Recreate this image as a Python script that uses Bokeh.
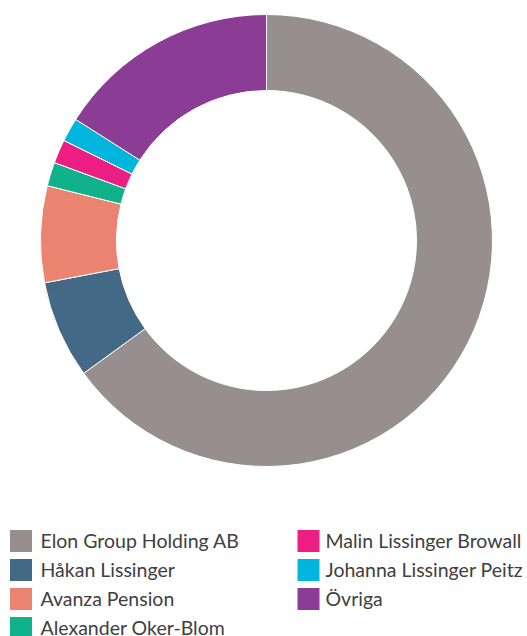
import numpy as np
from bokeh.plotting import figure
from bokeh.models import Range1d, ColumnDataSource
from bokeh.core.properties import value
from bokeh.embed import file_html
from bokeh.resources import INLINE

# ---- data ----
owners = ["Elon Group Holding AB", "Håkan Lissinger", "Avanza Pension",
          "Alexander Oker-Blom", "Malin Lissinger Browall",
          "Johanna Lissinger Peitz", "Övriga"]
shares = [65.0, 7.0, 6.9, 1.7, 1.7, 1.7, 16.0]
colors = ["#978f8f", "#436987", "#ea8470", "#10b28b", "#ec1e83", "#00b6dc", "#8b3d95"]

W, H = 527, 636
p = figure(width=W, height=H, output_backend="svg", toolbar_location=None,
           x_range=Range1d(0, W), y_range=Range1d(0, H), min_border=0,
           outline_line_color=None, background_fill_color="white")
p.axis.visible = False
p.grid.visible = False

vals = np.array(shares, dtype=float)
frac = vals / vals.sum() * 2 * np.pi
cum_after = np.cumsum(frac)
cum_before = cum_after - frac
cx, cy = 266, H - 240
src = ColumnDataSource(dict(
    start=np.pi / 2 - cum_after,
    end=np.pi / 2 - cum_before,
    color=colors,
))
p.annular_wedge(x=cx, y=cy, inner_radius=150, outer_radius=226,
                start_angle="start", end_angle="end", fill_color="color",
                line_color="white", line_width=1, source=src)

# ---- legend ----
n = len(owners)
col = [0 if i < 4 else 1 for i in range(n)]
row = [i if i < 4 else i - 4 for i in range(n)]
sq_x = [20.5 if c == 0 else 308 for c in col]
tx_x = [40 if c == 0 else 325 for c in col]
sq_y = [H - (540.5 + 29 * r) for r in row]
tx_y = [y + 1 for y in sq_y]
lsrc = ColumnDataSource(dict(sx=sq_x, sy=sq_y, tx=tx_x, ty=tx_y,
                             label=owners, color=colors))
p.rect(x="sx", y="sy", width=22, height=22, fill_color="color",
       line_color=None, source=lsrc)
p.text(x="tx", y="ty", text="label", text_font=value("Lato"),
       text_font_size="19.5px", text_color="#404040",
       text_baseline="middle", text_align="left", source=lsrc)

open("out.html", "w").write(file_html(p, INLINE))
